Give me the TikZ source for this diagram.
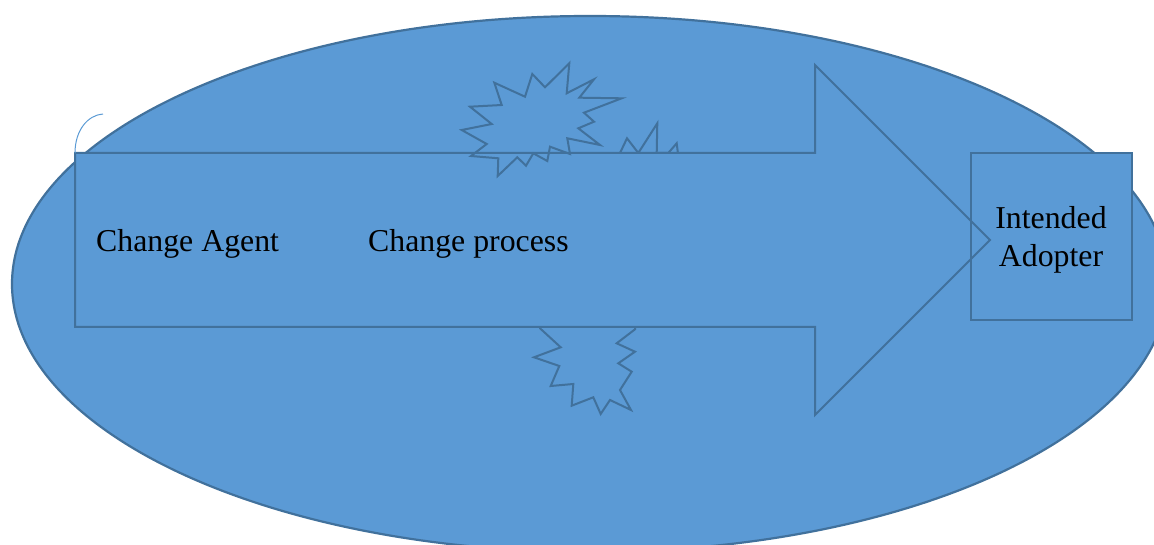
\documentclass[tikz,border=0pt]{standalone}
\usepackage{fontspec}
\setmainfont{Liberation Serif}
\definecolor{shapefill}{HTML}{5B9AD5}
\definecolor{shapeline}{HTML}{41719C}
\definecolor{arcline}{HTML}{5B9BD5}
\tikzset{
  bluepart/.style={fill=shapefill, draw=shapeline, line width=2pt, line join=miter},
  lbl/.style={font=\fontsize{31.8}{38.7}\selectfont, text=black, inner sep=0pt},
}
\begin{document}
\begin{tikzpicture}[x=1pt,y=-1pt]
\clip (0,0) rectangle (1154,545);
\fill[white] (0,0) rectangle (1154,545);
% ellipse background
\path[bluepart, line width=2.2pt] (590,284) ellipse [x radius=578, y radius=268];
% star 2 (behind arrow)
\path[bluepart] (615,175) -- (620,153) -- (627,138.3) -- (638.3,153) -- (657.3,123.3) -- (656.7,153)
  -- (668.3,153) -- (676.7,143.3) -- (680,170) -- cycle;
% star 3 (behind arrow)
\path[bluepart] (540,320) -- (540,328.3) -- (560.7,347.3) -- (534,357.3) -- (559.3,366) -- (550.7,386)
  -- (573.3,384) -- (571.7,405.7) -- (593.3,397.3) -- (600.7,414) -- (610,400) -- (631,410)
  -- (620,390) -- (631.7,371.7) -- (618.3,363.3) -- (635,351.7) -- (616.7,343.3) -- (635,329.3)
  -- (635,320) -- cycle;
% arrow fill
\fill[shapefill] (75,153) -- (815,153) -- (815,65) -- (990,240) -- (815,415) -- (815,327) -- (75,327) -- cycle;
% star 1 (in front)
\path[bluepart] (569.3,63.3) -- (545,87.3) -- (532.3,74) -- (525,96.7) -- (494.3,82.7) -- (501.7,105)
  -- (470,106.7) -- (491.7,124) -- (461.7,130) -- (486.7,144) -- (471,156) -- (498.3,158.3)
  -- (497.7,176) -- (517.3,157.3) -- (526,165.7) -- (533.3,153.3) -- (547.3,161) -- (550,146.7)
  -- (570,154) -- (567.3,138.3) -- (600,145) -- (578.3,128.3) -- (594,121.7) -- (584,112.7)
  -- (621.7,98.3) -- (579.3,97.7) -- (594,79.3) -- (566.7,93.3) -- cycle;
% box
\node[bluepart, minimum width=161pt, minimum height=167pt, inner sep=0pt] (adopter) at (1051.5,236.5) {};
% arrow outline
\draw[shapeline, line width=2pt, line join=miter] (75,153) -- (815,153) -- (815,65) -- (990,240) -- (815,415) -- (815,327) -- (75,327) -- cycle;
% small arc
\draw[arcline, line width=1pt] (75,153) .. controls (75,130) and (88,115) .. (103,114);
% labels
\node[lbl, anchor=base west] (agent) at (96,252) {Change Agent};
\node[lbl, anchor=base west] (process) at (368,252) {Change process};
\node[lbl, align=center] (adoptertext) at (1051,240) {Intended\\Adopter};
\end{tikzpicture}
\end{document}
